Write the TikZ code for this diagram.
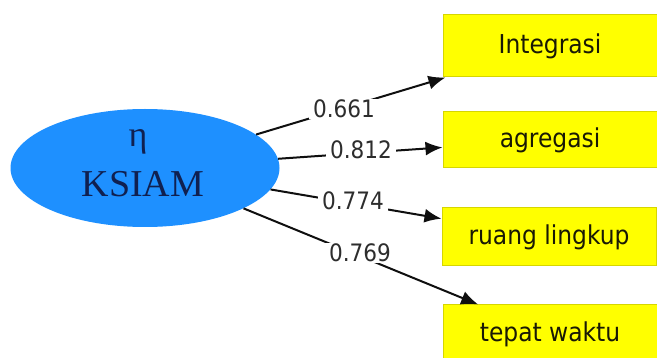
\documentclass[tikz,border=0pt]{standalone}
\usepackage{fontspec}
\setmainfont{Liberation Serif}
\newfontfamily\boxfont{DejaVu Sans Condensed}
\usetikzlibrary{shapes.geometric,arrows.meta}
\definecolor{ellblue}{RGB}{30,144,255}
\definecolor{navytxt}{RGB}{16,32,80}
\definecolor{boxyellow}{RGB}{255,255,0}
\definecolor{boxedge}{RGB}{214,214,0}
\definecolor{labgray}{RGB}{45,45,45}
\definecolor{boxtxt}{RGB}{25,25,5}
\definecolor{linecol}{RGB}{15,15,15}
\tikzset{
  latent/.style={ellipse, fill=ellblue, minimum width=269pt, minimum height=118pt, inner sep=0pt},
  indbox/.style={rectangle, fill=boxyellow, draw=boxedge, line width=1pt, minimum width=214pt, inner sep=0pt,
    font=\boxfont\fontsize{26}{26}\selectfont, text=boxtxt},
  conn/.style={draw=linecol, line width=2pt, -{Latex[length=17pt,width=14pt]}},
  lab/.style={fill=white, inner xsep=4pt, inner ysep=1pt, font=\boxfont\fontsize{24}{24}\selectfont, text=labgray}
}
\begin{document}
\begin{tikzpicture}[x=1pt,y=-1pt]
\clip (0,0) rectangle (657,358);
\fill[white] (0,0) rectangle (657,358);
\node[latent] (ksiam) at (145,168) {};
\node[font=\fontsize{36}{36}\selectfont, text=navytxt, inner sep=0pt] (eta) at (138,142) {η};
\node[font=\fontsize{38}{38}\selectfont, text=navytxt, inner sep=0pt] (ksiamtxt) at (143,184) {KSIAM};
\node[indbox, minimum height=62pt] (b1) at (550,46) {Integrasi};
\node[indbox, minimum height=56pt] (b2) at (550,140) {agregasi};
\node[indbox, minimum height=58pt] (b3) at (549,237) {ruang lingkup};
\node[indbox, minimum height=58pt] (b4) at (550,334) {tepat waktu};
\draw[conn] (ksiam) -- (b1);
\draw[conn] (ksiam) -- (b2);
\draw[conn] (ksiam) -- (b3);
\draw[conn] (ksiam) -- (b4);
\node[lab] (l1) at (344,109) {0.661};
\node[lab] (l2) at (361,150) {0.812};
\node[lab] (l3) at (353,201) {0.774};
\node[lab] (l4) at (360,253) {0.769};
\end{tikzpicture}
\end{document}
